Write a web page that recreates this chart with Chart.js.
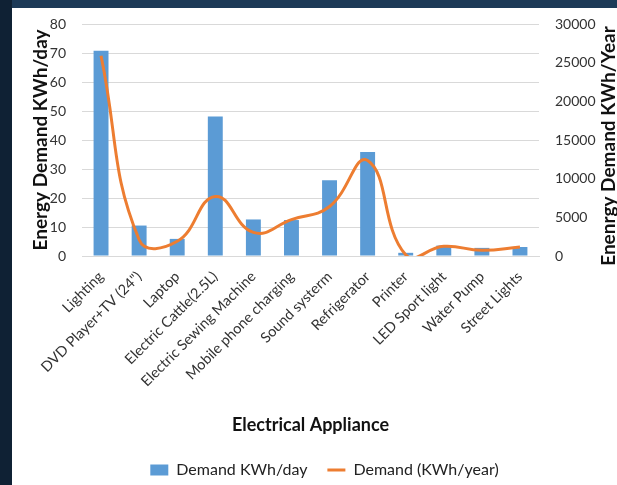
<!DOCTYPE html>
<html>
<head>
<meta charset="utf-8">
<script src="https://cdn.jsdelivr.net/npm/chart.js@4.4.0/dist/chart.umd.min.js"></script>
<style>
  html, body { margin: 0; padding: 0; }
  body {
    width: 617px; height: 485px; overflow: hidden;
    background: #1d3a57;
    position: relative;
  }
  #leftEdge { position: absolute; left: 0; top: 0; width: 12px; height: 485px; background: #0f2134; }
  #panel { position: absolute; left: 12px; top: 8px; width: 605px; height: 480px; background: #ffffff; }
</style>
</head>
<body>
<div id="leftEdge"></div>
<div id="panel"><canvas id="chart"></canvas></div>
<script>
// Chart values
const appliances = [
  'Lighting', 'DVD Player+TV (24")', 'Laptop', 'Electric Cattle(2.5L)',
  'Electric Sewing Machine', 'Mobile phone charging', 'Sound systerm',
  'Refrigerator', 'Printer', 'LED Sport light', 'Water Pump', 'Street Lights'
];
const demandPerDay = [70.8, 10.5, 5.9, 48.1, 12.6, 12.4, 26.1, 35.9, 1.1, 3.6, 2.8, 3.1];
const demandPerYear = [25900, 2100, 1900, 7700, 3050, 4700, 6400, 12350, 150, 1250, 730, 1160];

const dayTicks = [0, 80, 10];      // min, max, step
const yearTicks = [0, 30000, 5000];

const FONT = 'Lato, "Open Sans", sans-serif';

// right axis title reads bottom-to-top, so draw it ourselves
const rightTitle = {
  id: 'rightTitle',
  afterDraw(chart) {
    const ctx = chart.ctx;
    ctx.save();
    ctx.translate(597, 138);
    ctx.rotate(-Math.PI / 2);
    ctx.font = 'bold 19px ' + FONT;
    ctx.fillStyle = '#111';
    ctx.textAlign = 'center';
    ctx.textBaseline = 'middle';
    ctx.fillText('Enenrgy Demand KWh/Year', 0, 0);
    ctx.restore();
  }
};

// nudge the legend a little to the right, like the original
const legendShift = {
  id: 'legendShift',
  afterLayout(chart) {
    chart.legend.left += 10;
    chart.legend.right += 10;
  }
};

const ctx = document.getElementById('chart').getContext('2d');
new Chart(ctx, {
  data: {
    labels: appliances,
    datasets: [
      {
        type: 'bar',
        label: 'Demand KWh/day',
        data: demandPerDay,
        yAxisID: 'y',
        backgroundColor: '#5b9bd5',
        categoryPercentage: 0.8,
        barPercentage: 0.49,
        pointStyle: 'rect',
        order: 1,
      },
      {
        type: 'line',
        label: 'Demand (KWh/year)',
        data: demandPerYear,
        yAxisID: 'y1',
        borderColor: '#ed7d31',
        backgroundColor: '#ed7d31',
        borderWidth: 3,
        tension: 0.45,
        capBezierPoints: false,
        pointRadius: 0,
        pointHoverRadius: 0,
        pointStyle: 'line',
        order: 0,
      },
    ],
  },
  options: {
    responsive: true,
    maintainAspectRatio: false,
    animation: false,
    layout: { padding: { top: 16, right: 0, bottom: 0, left: 0 } },
    scales: {
      x: {
        grid: { display: false },
        border: { color: '#d9d9d9' },
        ticks: {
          autoSkip: false,
          minRotation: 45,
          maxRotation: 45,
          padding: 4,
          color: '#333',
          font: { family: FONT, size: 14.5 },
        },
        title: {
          display: true,
          text: 'Electrical Appliance',
          color: '#111',
          font: { family: FONT, size: 18, weight: 'bold' },
          padding: { top: 0, bottom: 6 },
        },
        afterFit(scale) { scale.height = 186; },
      },
      y: {
        position: 'left',
        min: dayTicks[0],
        max: dayTicks[1],
        grid: { color: '#d9d9d9', drawTicks: true, tickLength: 13, tickColor: 'rgba(0,0,0,0)' },
        border: { display: false },
        ticks: {
          stepSize: dayTicks[2],
          padding: 3,
          color: '#333',
          font: { family: FONT, size: 14 },
        },
        title: {
          display: true,
          text: 'Energy Demand KWh/day',
          color: '#111',
          font: { family: FONT, size: 19, weight: 'bold' },
          padding: { top: 17, bottom: 0 },
        },
        afterFit(scale) { scale.width = 70; },
      },
      y1: {
        position: 'right',
        min: yearTicks[0],
        max: yearTicks[1],
        grid: { display: false, drawTicks: true, tickLength: 13 },
        border: { display: false },
        ticks: {
          stepSize: yearTicks[2],
          padding: 3,
          color: '#333',
          font: { family: FONT, size: 14 },
          callback: (v) => String(v),
        },
        afterFit(scale) { scale.width = 78; },
      },
    },
    plugins: {
      legend: {
        position: 'bottom',
        labels: {
          usePointStyle: true,
          pointStyleWidth: 18,
          boxHeight: 11,
          padding: 20,
          color: '#222',
          font: { family: FONT, size: 16 },
          sort: (a, b) => a.datasetIndex - b.datasetIndex,
        },
      },
      tooltip: { enabled: false },
    },
  },
  plugins: [rightTitle, legendShift],
});
</script>
</body>
</html>
